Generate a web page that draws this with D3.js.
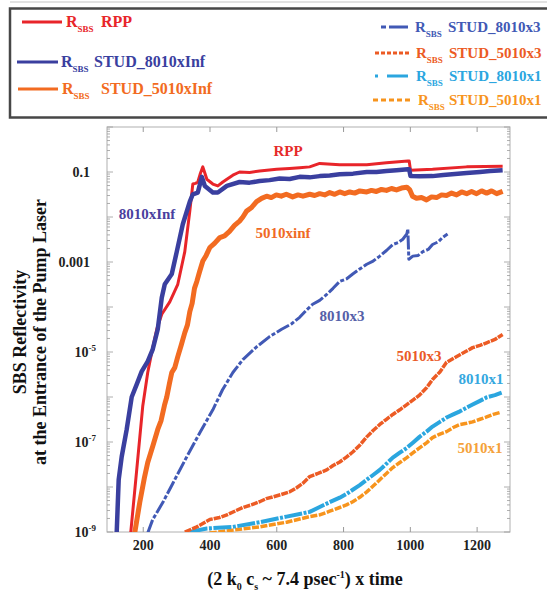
<!DOCTYPE html>
<html><head><meta charset="utf-8">
<script src="https://cdn.jsdelivr.net/npm/d3@7"></script>
<style>
body{margin:0;background:#fff}
svg{display:block}
text{font-family:"Liberation Serif","Times New Roman",serif;font-weight:bold}
</style>
</head><body>
<svg id="chart" width="547" height="591"></svg>
<script>
// ---------------- data ----------------
const xTicks = [200, 400, 600, 800, 1000, 1200];
const yTicks = [1e-9, 1e-7, 1e-5, 1e-3, 1e-1];
const yTickLabels = ["10|-9", "10|-7", "10|-5", "0.001", "0.1"];

const rppX = [164,182,200,215,227,242,257,281,305,326,341,350,358,365,372,380,386,392,410,425,440,452,470,490,520,550,601,640,670,700,730,790,871,930,994,998,1002,1068,1170,1278];
const rppY = [9.5e-10,2.4e-8,6.2e-7,3.5e-6,9.8e-6,3.2e-5,6.9e-5,1.3e-4,3.2e-4,1.7e-3,1.35e-2,5.4e-2,5.6e-2,6.0e-2,9.0e-2,1.3e-1,9.5e-2,6.9e-2,5.4e-2,4.9e-2,6.0e-2,6.9e-2,8.5e-2,1.0e-1,9.8e-2,1.05e-1,1.15e-1,1.2e-1,1.25e-1,1.3e-1,1.55e-1,1.45e-1,1.45e-1,1.6e-1,1.75e-1,1.75e-1,1.1e-1,1.15e-1,1.3e-1,1.35e-1];

const s8010InfX = [122,128,137,152,167,182,197,215,230,245,257,266,287,302,320,341,350,365,377,386,410,425,452,490,520,550,580,610,640,670,700,730,760,790,830,871,900,930,960,994,998,1002,1030,1068,1100,1135,1170,1210,1240,1278];
const s8010InfY = [9.5e-10,1.45e-8,4.7e-8,1.9e-7,1.0e-6,1.9e-6,3.7e-6,6.2e-6,1.15e-5,3.2e-5,1.6e-4,3.2e-4,5.4e-4,1.7e-3,6.9e-3,2.2e-2,3.2e-2,3.5e-2,7.8e-2,4.9e-2,3.5e-2,3.5e-2,4.9e-2,6.0e-2,5.8e-2,6.3e-2,6.6e-2,7.2e-2,7.0e-2,7.8e-2,7.6e-2,8.1e-2,8.4e-2,8.9e-2,9.2e-2,1.0e-1,1.0e-1,1.05e-1,1.1e-1,1.15e-1,1.15e-1,8.1e-2,8.0e-2,8.1e-2,8.6e-2,9.0e-2,9.5e-2,1.0e-1,1.05e-1,1.1e-1];

const s5010InfX = [176,191,205,215,230,245,255,265,272,280,287,296,305,315,326,334,341,348,355,362,370,380,390,401,415,431,445,460,475,490,500,511,525,541,556,571,585,600,615,630,649,665,680,700,715,730,745,760,775,790,805,820,835,850,871,885,900,915,930,945,960,975,991,1000,1008,1020,1035,1050,1065,1080,1095,1110,1125,1140,1155,1170,1185,1200,1215,1230,1245,1260,1278];
const s5010InfY = [9.5e-10,4.5e-9,1.6e-8,3.5e-8,8.0e-8,1.9e-7,3.0e-7,6.5e-7,1.0e-6,2.0e-6,3.5e-6,4.5e-6,7.9e-6,1.4e-5,2.7e-5,4.0e-5,7.9e-5,1.2e-4,2.6e-4,3.7e-4,6.0e-4,1.05e-3,1.4e-3,2.1e-3,2.6e-3,3.5e-3,3.8e-3,4.8e-3,6.5e-3,8.1e-3,1.0e-2,1.35e-2,1.6e-2,2.2e-2,2.6e-2,2.9e-2,2.7e-2,3.1e-2,2.9e-2,3.2e-2,2.8e-2,3.1e-2,2.9e-2,3.2e-2,3.0e-2,3.3e-2,3.1e-2,3.5e-2,3.2e-2,3.6e-2,3.3e-2,3.6e-2,3.4e-2,3.8e-2,3.6e-2,3.9e-2,3.7e-2,4.1e-2,3.9e-2,4.3e-2,4.0e-2,4.4e-2,4.6e-2,4.0e-2,2.9e-2,2.6e-2,2.7e-2,2.4e-2,2.8e-2,2.7e-2,3.1e-2,3.0e-2,3.4e-2,3.1e-2,3.6e-2,3.3e-2,3.7e-2,3.3e-2,3.8e-2,3.4e-2,3.8e-2,3.3e-2,3.7e-2];

const s8010x3X = [215,230,260,290,332,371,410,439,470,500,541,580,616,645,670,690,709,730,751,770,790,810,829,850,871,890,910,930,949,965,979,991,994,997,1009,1025,1039,1055,1068,1085,1098,1113];
const s8010x3Y = [9.5e-10,1.9e-9,4.5e-9,1.2e-8,4.7e-8,1.6e-7,5.2e-7,1.45e-6,3.5e-6,6.8e-6,1.3e-5,2.2e-5,3.2e-5,4.2e-5,5.9e-5,8.5e-5,1.15e-4,1.4e-4,1.9e-4,2.6e-4,3.7e-4,4.2e-4,5.4e-4,7.0e-4,8.9e-4,1.05e-3,1.35e-3,1.8e-3,2.45e-3,2.7e-3,3.2e-3,4.2e-3,5.4e-3,1.15e-3,1.35e-3,1.4e-3,1.7e-3,1.9e-3,2.45e-3,2.8e-3,3.5e-3,4.2e-3];

const s5010x3X = [326,362,401,430,452,480,500,525,550,570,589,615,640,660,679,700,725,751,770,790,810,829,850,871,890,910,930,949,970,991,1010,1029,1050,1068,1090,1110,1130,1150,1170,1188,1210,1230,1255,1278];
const s5010x3Y = [1.0e-9,1.3e-9,1.9e-9,2.1e-9,2.4e-9,3.0e-9,3.5e-9,4.0e-9,4.7e-9,5.5e-9,6.0e-9,6.8e-9,7.8e-9,9.5e-9,1.2e-8,1.7e-8,2.0e-8,2.4e-8,3.0e-8,3.6e-8,4.6e-8,6.0e-8,8.5e-8,1.3e-7,1.8e-7,2.45e-7,3.2e-7,4.1e-7,5.2e-7,6.8e-7,8.6e-7,1.1e-6,1.6e-6,2.45e-6,3.6e-6,5.9e-6,7.2e-6,8.7e-6,1.05e-5,1.25e-5,1.4e-5,1.6e-5,1.9e-5,2.45e-5];

const s8010x1X = [341,392,470,550,631,700,730,760,790,810,829,850,871,890,910,930,949,970,991,1010,1029,1050,1068,1090,1110,1130,1150,1170,1188,1210,1230,1255,1275];
const s8010x1Y = [1.0e-9,1.2e-9,1.3e-9,1.65e-9,2.2e-9,2.8e-9,3.6e-9,4.6e-9,5.8e-9,7.0e-9,8.7e-9,1.1e-8,1.45e-8,1.85e-8,2.4e-8,3.3e-8,4.5e-8,5.8e-8,7.4e-8,9.8e-8,1.3e-7,1.7e-7,2.2e-7,2.8e-7,3.5e-7,4.1e-7,4.8e-7,5.8e-7,6.8e-7,8.2e-7,9.8e-7,1.1e-6,1.25e-6];

const s5010x1X = [401,470,550,631,700,730,760,790,810,829,850,871,890,910,930,949,970,991,1010,1029,1050,1068,1090,1110,1130,1150,1170,1188,1210,1230,1250,1269];
const s5010x1Y = [9.5e-10,1.1e-9,1.3e-9,1.65e-9,2.2e-9,2.4e-9,2.9e-9,3.5e-9,4.0e-9,4.7e-9,5.9e-9,7.8e-9,1.05e-8,1.45e-8,2.0e-8,2.7e-8,3.5e-8,4.5e-8,5.8e-8,7.4e-8,9.6e-8,1.25e-7,1.5e-7,1.7e-7,2.1e-7,2.45e-7,2.6e-7,2.8e-7,3.2e-7,3.6e-7,4.1e-7,4.5e-7];

const legendNames = ["RPP","STUD_8010xInf","STUD_5010xInf","STUD_8010x3","STUD_5010x3","STUD_8010x1","STUD_5010x1"];
const curveLabels = ["RPP","8010xInf","5010xinf","8010x3","5010x3","8010x1","5010x1"];

// ---------------- styling / layout ----------------
const seriesStyle = [
  {x:rppX, y:rppY, color:"#e8252a", w:3, dash:null},
  {x:s8010InfX, y:s8010InfY, color:"#3a3f9f", w:4.5, dash:null},
  {x:s5010InfX, y:s5010InfY, color:"#f26b21", w:5, dash:null},
  {x:s8010x3X, y:s8010x3Y, color:"#4159b5", w:3, dash:"14,2,4,2"},
  {x:s5010x3X, y:s5010x3Y, color:"#ec5b24", w:3.5, dash:"7,1"},
  {x:s8010x1X, y:s8010x1Y, color:"#2ba6df", w:4, dash:"18,1.5,3,1.5"},
  {x:s5010x1X, y:s5010x1Y, color:"#f7941d", w:3.5, dash:"7,1.5"}
];
const labelColors = ["#e62a2a","#4a3f9e","#f06a25","#5560a8","#ea5a28","#35a8df","#f5a23a"];
const labelPos = [[288,151],[147,214],[283,233],[342,316],[419,356],[481,379],[480,448]];
const legendLayout = [
  {ly:22, x1:22, x2:62, rx:66, nx:101, fs:16},
  {ly:62, x1:17, x2:58, rx:61, nx:94, fs:16},
  {ly:89, x1:18, x2:58, rx:62, nx:101, fs:16},
  {ly:27, x1:381, x2:410, rx:415, nx:448, fs:15},
  {ly:53, x1:375, x2:410, rx:416, nx:449, fs:15},
  {ly:76, x1:375, x2:410, rx:416, nx:449, fs:15},
  {ly:100, x1:373, x2:413, rx:418, nx:449, fs:15}
];
const legendDash = [null,null,null,"5,3,14,0","4,2","3,9,18,0","5,3"];

const svg = d3.select("#chart");
const P = {l:107, r:510, t:127, b:532};
const xs = d3.scaleLinear().domain([93,1300]).range([P.l,P.r]);
const ys = d3.scaleLog().domain([1e-9,1]).range([P.b,P.t]);

// top faint rule & legend box
svg.append("line").attr("x1",10).attr("x2",547).attr("y1",2).attr("y2",2).attr("stroke","#d8d8d8").attr("stroke-width",1.5);
svg.append("rect").attr("x",10).attr("y",8.5).attr("width",560).attr("height",109)
  .attr("fill","#fff").attr("stroke","#474747").attr("stroke-width",2.5);

// plot frame
svg.append("rect").attr("x",P.l).attr("y",P.t).attr("width",P.r-P.l).attr("height",P.b-P.t)
  .attr("fill","none").attr("stroke","#b0b0b0").attr("stroke-width",1);

// x axes ticks (inward)
const bottomAxis = d3.axisBottom(xs).tickValues(xTicks).tickSize(-5).tickFormat(d=>d);
const gx = svg.append("g").attr("transform",`translate(0,${P.b})`).call(bottomAxis);
gx.select(".domain").remove();
gx.selectAll(".tick line").attr("stroke","#999");
gx.selectAll(".tick text").attr("font-size",14).attr("fill","#222").attr("dy","1.1em")
  .style("font-family",'"Liberation Serif",serif').style("font-weight","bold");
const topAxis = d3.axisTop(xs).tickValues(xTicks).tickSize(-5).tickFormat("");
const gt = svg.append("g").attr("transform",`translate(0,${P.t})`).call(topAxis);
gt.select(".domain").remove();
gt.selectAll(".tick line").attr("stroke","#999");

// y minor / major ticks
const minorVals = [];
for (let e=-9; e<0; e++) for (let m=1; m<10; m++) minorVals.push(m*Math.pow(10,e));
minorVals.push(1);
[P.l, P.r].forEach((xx,i)=>{
  const dir = i===0?1:-1;
  svg.append("g").selectAll("line").data(minorVals).join("line")
    .attr("x1",xx).attr("x2",d=>{const lg=Math.log10(d); const maj=Math.abs(lg-Math.round(lg))<1e-9; return xx+dir*(maj?6:3);})
    .attr("y1",d=>ys(d)).attr("y2",d=>ys(d)).attr("stroke","#999").attr("stroke-width",0.8);
});

// y tick labels
const gy = svg.append("g");
yTicks.forEach((v,i)=>{
  const lab = yTickLabels[i];
  const t = gy.append("text").attr("y",ys(v)+5).attr("text-anchor","end").attr("font-size",14).attr("fill","#222");
  if (lab.includes("|")) {
    const [b,p] = lab.split("|");
    t.attr("x",96);
    t.append("tspan").text(b);
    t.append("tspan").attr("font-size",9).attr("dy",-6).text(p);
  } else {
    t.attr("x",90).text(lab);
  }
});

// clip
svg.append("clipPath").attr("id","clip").append("rect").attr("x",P.l).attr("y",P.t).attr("width",P.r-P.l).attr("height",P.b-P.t);
const line = d3.line().x(d=>xs(d[0])).y(d=>ys(d[1]));
const gLines = svg.append("g").attr("clip-path","url(#clip)");
const drawOrder = [6,5,4,3,2,0,1];
drawOrder.forEach(i=>{
  const s = seriesStyle[i];
  const pts = s.x.map((x,j)=>[x,s.y[j]]);
  gLines.append("path").datum(pts).attr("d",line).attr("fill","none")
    .attr("stroke",s.color).attr("stroke-width",s.w).attr("stroke-linejoin","round")
    .attr("stroke-dasharray",s.dash);
});

// curve labels
curveLabels.forEach((t,i)=>{
  svg.append("text").attr("x",labelPos[i][0]).attr("y",labelPos[i][1]+5).attr("text-anchor","middle")
    .attr("font-size",15).attr("fill",labelColors[i]).text(t);
});

// legend
legendNames.forEach((n,i)=>{
  const L = legendLayout[i], s = seriesStyle[i];
  svg.append("line").attr("x1",L.x1).attr("x2",L.x2).attr("y1",L.ly).attr("y2",L.ly)
    .attr("stroke",s.color).attr("stroke-width",3).attr("stroke-dasharray",legendDash[i]);
  const t = svg.append("text").attr("y",L.ly+5).attr("fill",s.color).attr("font-size",L.fs);
  t.append("tspan").attr("x",L.rx).text("R");
  t.append("tspan").attr("font-size",9).attr("dy",5).text("SBS");
  t.append("tspan").attr("x",L.nx).attr("dy",-5).text(n);
});

// axis titles
svg.append("text").attr("x",305).attr("y",585).attr("text-anchor","middle").attr("font-size",18).attr("fill","#111")
  .call(t=>{
    t.append("tspan").text("(2 k");
    t.append("tspan").attr("font-size",10).attr("dy",5).text("0");
    t.append("tspan").attr("dy",-5).text(" c");
    t.append("tspan").attr("font-size",10).attr("dy",5).text("s");
    t.append("tspan").attr("dy",-5).text(" ~ 7.4 psec");
    t.append("tspan").attr("font-size",10).attr("dy",-7).text("-1");
    t.append("tspan").attr("dy",7).text(") x time");
  });
const yt = svg.append("g").attr("transform","translate(0,332) rotate(-90)");
yt.append("text").attr("x",0).attr("y",26).attr("text-anchor","middle").attr("font-size",18).attr("fill","#111").text("SBS Reflectivity");
yt.append("text").attr("x",0).attr("y",46).attr("text-anchor","middle").attr("font-size",18).attr("fill","#111").text("at the Entrance of the Pump Laser");
</script>
</body></html>
